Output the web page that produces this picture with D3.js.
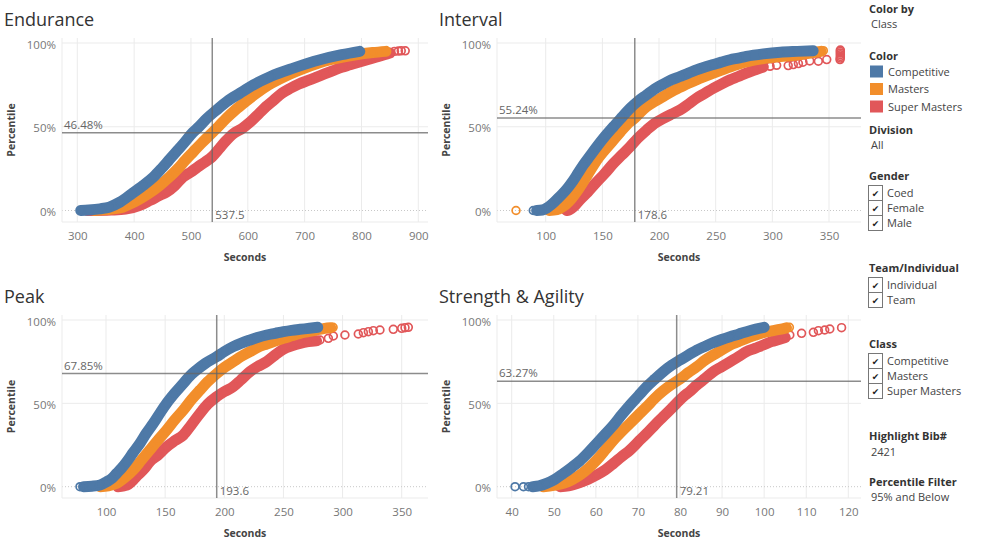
<!DOCTYPE html>
<html><head><meta charset="utf-8">
<script src="https://cdn.jsdelivr.net/npm/d3@7"></script>
<style>
body{margin:0;background:#fff;}
svg{font-family:"Open Sans","Noto Sans",sans-serif;}
</style></head><body>
<svg id="c" width="999" height="547"></svg>
<script>
// ---------- data ----------
const classes = ["Competitive", "Masters", "Super Masters"];
const classColors = ["#4e79a7", "#f28e2b", "#e15759"];
const panelTitles = ["Endurance", "Interval", "Peak", "Strength & Agility"];
const xTickValues = [
  [300, 400, 500, 600, 700, 800, 900],
  [100, 150, 200, 250, 300, 350],
  [100, 150, 200, 250, 300, 350],
  [40, 50, 60, 70, 80, 90, 100, 110, 120]
];
const yTickValues = [0, 50, 100];
const highlightSeconds = [537.5, 178.6, 193.6, 79.21];
const highlightPct = [46.48, 55.24, 67.85, 63.27];
const highlightSecLabels = ["537.5", "178.6", "193.6", "79.21"];
const highlightPctLabels = ["46.48%", "55.24%", "67.85%", "63.27%"];

// [seconds, percentile %]  dense band + sparse tail points
const enduranceCompetitive = [[306,0],[320,0.3],[340,1],[356,2],[375,5],[396,10],[416,15],[434,20],[448,25],[461,30],[474,35],[487,40],[503,46.5],[514,50],[528,55],[545,60],[563,65],[586,70],[610,75],[640,80],[680,85],[727,90],[765,93],[797,95]];
const enduranceCompetitiveTail = [];
const enduranceMasters = [[330,0],[360,0.8],[380,2],[400,5],[425,10],[445,15],[462,20],[477,25],[490,30],[504,35],[518,40],[537.5,46.5],[548,50],[562,55],[578,60],[596,65],[615,70],[637,75],[665,80],[700,85],[745,90],[790,93],[820,94.3],[843,95]];
const enduranceMastersTail = [];
const enduranceSuper = [[318,0],[360,0.3],[385,0.8],[410,3],[428,6],[445,9],[457,11],[472,15],[486,20],[500,23],[512,26],[525,29],[537,32],[550,37],[560,41],[575,46],[590,49],[605,53],[620,58],[632,62],[646,66],[660,70],[675,73],[690,75.5],[705,77.5],[720,79.5],[735,81.5],[750,83.5],[765,85.5],[780,87],[795,88.5],[810,90],[825,91.5],[840,93],[850,94]];
const enduranceSuperTail = [[858,95],[865,95.2],[870,95.3],[877,95.3]];

const intervalCompetitive = [[92,0],[97,0.3],[101,1.5],[105,3.5],[109.7,6.5],[115.6,10.5],[120,14],[124.4,18],[128.7,22.5],[133,27],[139,32.5],[145,38],[152,44],[159.7,50],[167,55.5],[174.4,61],[181,65],[189,69],[196,72.5],[203.8,75.5],[211,78],[218.5,80],[226,82],[233,84],[240.5,85.7],[248,87.2],[255,88.6],[262.6,90],[270,91],[277,92],[292,93.5],[307,94.5],[322,95],[336,95.4]];
const intervalCompetitiveTail = [[89,0]];
const intervalMasters = [[103,0],[110,0.5],[115.6,2.5],[120,5],[124.4,8.5],[128.7,12.5],[133,17],[139,23.5],[145,30],[152,36],[159.7,42],[166,47],[172,51.5],[178.6,55.2],[184,59],[189,62],[196,65],[203.8,68],[211,71],[218.5,73.5],[226,76],[233,78],[248,82],[262.6,85.7],[277,88.7],[292,90.7],[307,91.9],[321.5,92.8],[336,94.3],[343,95]];
const intervalMastersTail = [[73.8,0],[345,95.4]];
const intervalSuper = [[118.5,0],[121,0.5],[125,2.5],[130.3,6.5],[137,11],[145,17],[152,22],[159.7,28],[167,33],[174.4,38],[181,43],[189,48],[196,52],[203.8,55],[211,57.5],[218.5,60],[226,63.5],[233,67],[240.5,70],[248,73],[255,75.5],[262.6,78],[270,80],[277,82],[285,84],[292,85.7]];
const intervalSuperTail = [[298,86.1],[303.8,86.7],[314,86.5],[318.5,87.1],[323,87.7],[327,88.5],[333,89.3],[340.6,89.1],[348,90.1],[359.7,90.1],[360,91],[360,92],[360,93],[360,94],[360,95],[360,95.8]];

const peakCompetitive = [[81,0],[88,0.3],[95,1],[100.6,3],[105,5],[109,8],[113,11],[117.5,15],[123,20.5],[128.7,26],[134,32],[140,38],[146,44.5],[151.3,50],[158,56],[165.4,62],[171,66.5],[176.6,70],[184,74],[193.6,78],[200,81],[207.6,84],[214,86],[221.7,88],[228,89.5],[235.8,91],[243,92],[250,93],[257,93.8],[264,94.4],[272,95],[279,95.6]];
const peakCompetitiveTail = [[78,0]];
const peakMasters = [[95,0],[102,0.5],[109,2],[116,5.5],[123,10],[130,16],[137,22],[144,28],[151.3,34],[158,40],[165.4,46],[172,52],[179.5,58],[186,63],[193.6,67.85],[200,71.5],[207.6,75],[214,78],[221.7,81],[228,83.5],[235.8,85.6],[243,87.4],[250,89],[257,90.5],[264,92],[271,93],[278,94],[285,95],[290,95.4]];
const peakMastersTail = [[292,95.6]];
const peakSuper = [[110,0],[115,0.5],[119,1.5],[123,4],[127,7],[132,10.5],[137,15],[144,19],[151.3,24],[158,27.5],[165.4,31],[172,37],[179.5,44],[186,49.5],[193.6,54],[200,57],[207.6,60],[214,64],[221.7,69],[228,72],[235.8,75],[243,79],[250,82.5],[257,84.5],[264,86],[271,87],[278,87.5]];
const peakSuperTail = [[280.9,88],[288,89],[292.2,90.4],[302,91],[313.3,91.6],[317.6,92.4],[321.8,93],[326,93.6],[331.6,94],[342.9,94.4],[350,95],[352.8,95.4],[355.6,95.6]];

const strengthCompetitive = [[45,0],[46.5,0.5],[48.3,2],[50.3,4.5],[52.3,8],[54.2,11.5],[56.2,15.5],[58.2,20.5],[60.2,26],[62.2,31.5],[64.2,37],[66.1,43],[68.1,49],[70.1,54.5],[72.1,60],[74,64.5],[76,69],[78,72.8],[80,76],[82,79],[84,82],[86,84.3],[87.9,86.4],[89.9,88.3],[91.9,90],[93.9,91.5],[95.8,93],[98,94.5],[100,95.6]];
const strengthCompetitiveTail = [[40.8,0],[42.8,0],[44,0]];
const strengthMasters = [[47.5,0],[50,0.8],[52.3,2],[54.2,4],[56.2,7],[58.2,11],[60.2,16],[62.2,22],[64.2,28],[66.1,33],[68.1,38],[70.1,43],[72.1,48],[74,53],[76,57.5],[78,61.3],[79.21,63.27],[80,64.6],[82,68.5],[84,72],[86,76],[87.9,79],[89.9,82],[91.9,85],[93.9,87],[95.8,89],[97.8,90.8],[99.8,92.4],[101.8,93.5],[103.7,94.4],[105.3,95.3]];
const strengthMastersTail = [[106,95.6]];
const strengthSuper = [[51.5,0],[53.5,0.5],[56.2,2.5],[58.2,4.5],[60.2,7],[62.2,10],[64.2,14],[66.1,18],[68.1,22],[70.1,27],[72.1,32],[74,37],[76,42],[78,47],[80.8,54],[82.5,57.5],[84,61],[86,65],[87.9,69],[89.9,72],[91.9,75],[93.9,78],[95.8,81],[97.8,83],[99.8,85],[101.7,87],[103.7,88.4],[105,89.5]];
const strengthSuperTail = [[106.1,91],[108.9,92],[111.7,92.6],[112.9,93.6],[114.4,94],[115.6,94.6],[118.4,95.4]];

const panelSeries = [
  [[enduranceCompetitive, enduranceCompetitiveTail],[enduranceMasters, enduranceMastersTail],[enduranceSuper, enduranceSuperTail]],
  [[intervalCompetitive, intervalCompetitiveTail],[intervalMasters, intervalMastersTail],[intervalSuper, intervalSuperTail]],
  [[peakCompetitive, peakCompetitiveTail],[peakMasters, peakMastersTail],[peakSuper, peakSuperTail]],
  [[strengthCompetitive, strengthCompetitiveTail],[strengthMasters, strengthMastersTail],[strengthSuper, strengthSuperTail]]
];

// ---------- layout ----------
const layout = [
  {left:62, right:428, top:38, bottom:222, xd:[300,900], xr:[77.3,418.3], y0:210.5, y100:43, tx:4, ty:26},
  {left:497, right:861, top:38, bottom:222, xd:[100,350], xr:[545.7,829], y0:210.5, y100:43, tx:439, ty:26},
  {left:62, right:428, top:315, bottom:498, xd:[100,350], xr:[106,401.7], y0:486.7, y100:320, tx:4, ty:303},
  {left:497, right:861, top:315, bottom:498, xd:[40,120], xr:[511.7,848.3], y0:486.7, y100:320, tx:439, ty:303}
];

const svg = d3.select("#c");
const gridColor = "#ebebeb";

layout.forEach((L, i) => {
  const x = d3.scaleLinear().domain(L.xd).range(L.xr);
  const y = d3.scaleLinear().domain([0, 100]).range([L.y0, L.y100]);
  const g = svg.append("g");

  // title
  g.append("text").attr("x", L.tx).attr("y", L.ty).text(panelTitles[i])
    .attr("font-size", 18).attr("fill", "#333");

  // grid
  g.selectAll(".vg").data(xTickValues[i]).join("line")
    .attr("x1", d => x(d)).attr("x2", d => x(d)).attr("y1", L.top).attr("y2", L.bottom)
    .attr("stroke", gridColor).attr("stroke-width", 1);
  g.selectAll(".hg").data(yTickValues.filter(v => v > 0)).join("line")
    .attr("x1", L.left).attr("x2", L.right).attr("y1", d => y(d)).attr("y2", d => y(d))
    .attr("stroke", gridColor).attr("stroke-width", 1);
  g.append("line").attr("x1", L.left).attr("x2", L.right).attr("y1", y(0)).attr("y2", y(0))
    .attr("stroke", "#c8c8c8").attr("stroke-dasharray", "1,2");
  // pane borders
  g.append("line").attr("x1", L.left).attr("x2", L.left).attr("y1", L.top).attr("y2", L.bottom).attr("stroke", gridColor);
  g.append("line").attr("x1", L.left).attr("x2", L.right).attr("y1", L.bottom).attr("y2", L.bottom).attr("stroke", gridColor);

  // axes
  const xa = g.append("g").attr("transform", `translate(0,${L.bottom})`)
    .call(d3.axisBottom(x).tickValues(xTickValues[i]).tickSize(0).tickPadding(10));
  xa.select(".domain").remove();
  xa.selectAll("text").attr("font-size", 11.5).attr("fill", "#777").attr("font-family", "Open Sans");
  const ya = g.append("g").attr("transform", `translate(${L.left},0)`)
    .call(d3.axisLeft(y).tickValues(yTickValues).tickFormat(d => d + "%").tickSize(0).tickPadding(6));
  ya.select(".domain").remove();
  ya.selectAll("text").attr("font-size", 11.5).attr("fill", "#777").attr("font-family", "Open Sans").attr("dy", "0.45em");

  g.append("text").attr("x", (L.left + L.right) / 2).attr("y", L.bottom + 39)
    .attr("text-anchor", "middle").attr("font-size", 10.5).attr("font-weight", "bold").attr("fill", "#444").text("Seconds");
  g.append("text").attr("transform", `translate(${L.left - 47},${(L.top + L.bottom) / 2}) rotate(-90)`)
    .attr("text-anchor", "middle").attr("font-size", 10.5).attr("font-weight", "bold").attr("fill", "#444").text("Percentile");

  // data: draw Super Masters first, Competitive last (on top)
  const line = d3.line().x(d => x(d[0])).y(d => y(d[1])).curve(d3.curveMonotoneX);
  [2, 1, 0].forEach(ci => {
    const [dense, tail] = panelSeries[i][ci];
    const col = classColors[ci];
    g.append("path").datum(dense).attr("d", line).attr("fill", "none")
      .attr("stroke", col).attr("stroke-width", 11).attr("stroke-linecap", "round").attr("stroke-linejoin", "round");
    g.selectAll(null).data(dense.concat(tail)).join("circle")
      .attr("cx", d => x(d[0])).attr("cy", d => y(d[1])).attr("r", 3.9)
      .attr("fill", "none").attr("stroke", col).attr("stroke-width", 1.7);
  });

  // crosshair
  const hx = x(highlightSeconds[i]), hy = y(highlightPct[i]);
  g.append("line").attr("x1", hx).attr("x2", hx).attr("y1", L.top).attr("y2", L.bottom)
    .attr("stroke", "#666").attr("stroke-opacity", 0.75).attr("stroke-width", 1.5);
  g.append("line").attr("x1", L.left).attr("x2", L.right).attr("y1", hy).attr("y2", hy)
    .attr("stroke", "#666").attr("stroke-opacity", 0.75).attr("stroke-width", 1.5);
  g.append("text").attr("x", L.left + 2).attr("y", hy - 4).text(highlightPctLabels[i])
    .attr("font-size", 11.5).attr("fill", "#666");
  g.append("text").attr("x", hx + 3).attr("y", y(0) + 8).text(highlightSecLabels[i])
    .attr("font-size", 11.5).attr("fill", "#666");
});

// ---------- right-hand filter / legend panel ----------
const legendLeft = 869;
const headerStyle = t => t.attr("font-size", 11).attr("font-weight", "bold").attr("fill", "#333");
const valueStyle = t => t.attr("font-size", 11).attr("fill", "#444");

function header(txt, yy) { headerStyle(svg.append("text").attr("x", legendLeft).attr("y", yy).text(txt)); }
function value(txt, yy) { valueStyle(svg.append("text").attr("x", legendLeft + 2).attr("y", yy).text(txt)); }

header("Color by", 13); value("Class", 28);
header("Color", 60);
classes.forEach((c, k) => {
  const yy = 65.5 + k * 17.5;
  svg.append("rect").attr("x", 870).attr("y", yy).attr("width", 13).attr("height", 12).attr("fill", classColors[k]);
  valueStyle(svg.append("text").attr("x", 888).attr("y", yy + 10).text(c));
});
header("Division", 134); value("All", 149);

const genderOptions = ["Coed", "Female", "Male"];
const teamOptions = ["Individual", "Team"];
function checklist(items, y0) {
  items.forEach((t, k) => {
    const yy = y0 + k * 15;
    svg.append("rect").attr("x", 868.5).attr("y", yy + 0.5).attr("width", 14).attr("height", 15)
      .attr("fill", "#fff").attr("stroke", "#777").attr("stroke-width", 1);
    svg.append("text").attr("x", 875.5).attr("y", yy + 12).attr("text-anchor", "middle")
      .attr("font-size", 9).attr("fill", "#222").attr("font-family", "DejaVu Sans").text("✔");
    valueStyle(svg.append("text").attr("x", 887).attr("y", yy + 11.5).text(t));
  });
}
header("Gender", 180); checklist(genderOptions, 185);
header("Team/Individual", 272); checklist(teamOptions, 277);
header("Class", 348); checklist(classes, 353);
header("Highlight Bib#", 440); value("2421", 456);
header("Percentile Filter", 486); value("95% and Below", 501);
</script>
</body></html>
